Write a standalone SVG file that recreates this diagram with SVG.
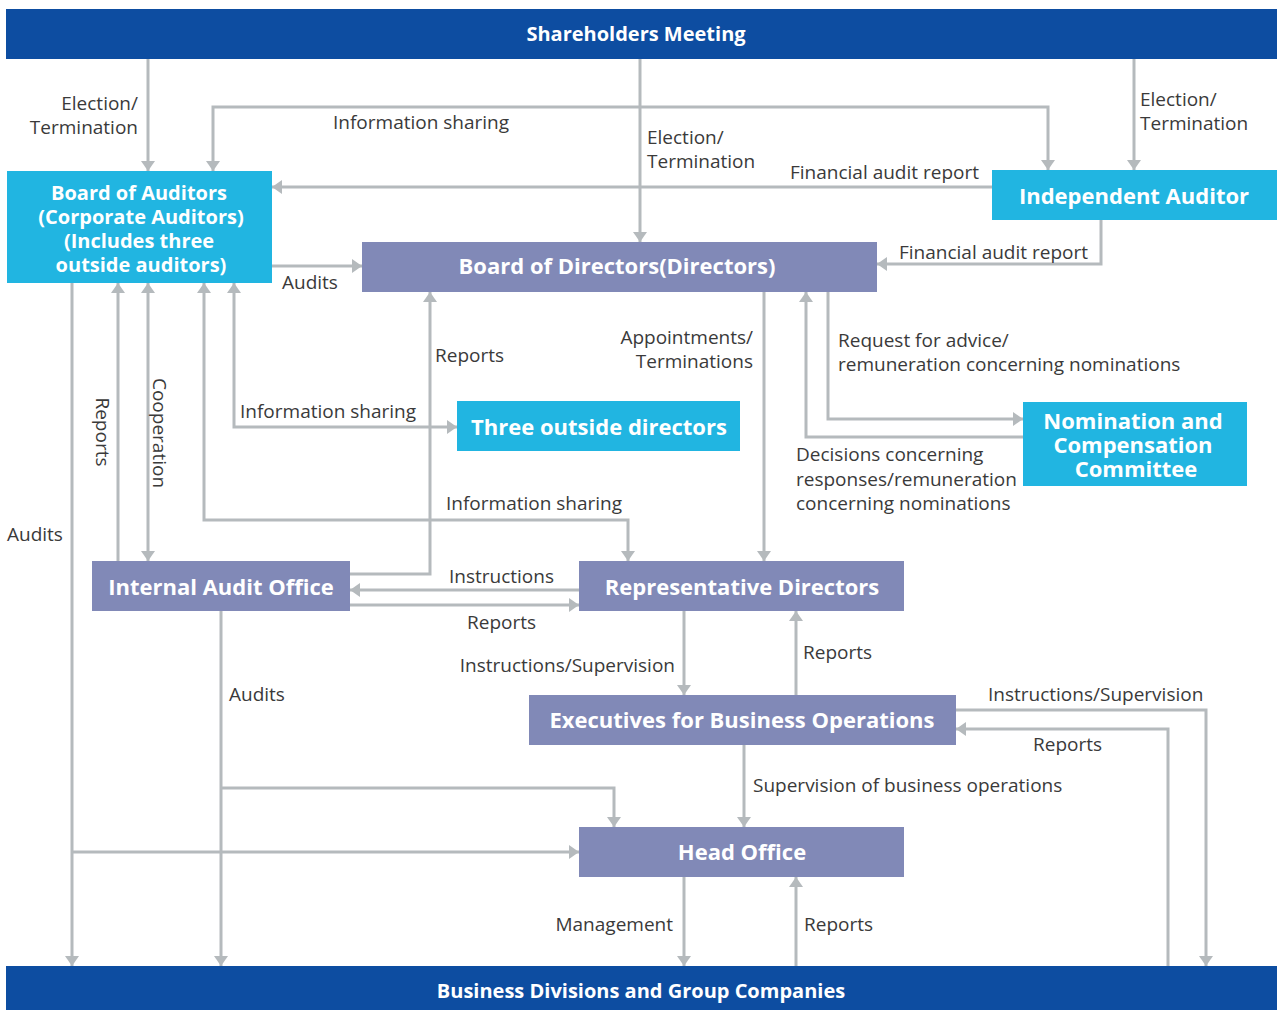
<svg xmlns="http://www.w3.org/2000/svg" width="1277" height="1010" viewBox="0 0 1277 1010">
<style>
.c{fill:none;stroke:#b5babd;stroke-width:3}
.a{marker-end:url(#ah)}
.b{marker-start:url(#ah);marker-end:url(#ah)}
.lb{font-family:"Open Sans","Noto Sans",sans-serif;font-size:19px;fill:#3a3a3a}
.e{text-anchor:end}
.t{font-family:"Open Sans","Noto Sans",sans-serif;font-weight:bold;fill:#fff;text-anchor:middle;dominant-baseline:central}
.bar{fill:#0d4da1}
.cy{fill:#21b5e1}
.pu{fill:#8189b7}
</style>
<defs>
<marker id="ah" viewBox="0 0 10 14" refX="10" refY="7" markerWidth="10" markerHeight="14" markerUnits="userSpaceOnUse" orient="auto-start-reverse">
<path d="M0,0 L10,7 L0,14 z" fill="#b5babd"/>
</marker>
</defs>
<rect width="1277" height="1010" fill="#fff"/>
<g id="connectors">
<path class="c a" d="M148,59 V171"/>
<path class="c a" d="M640,59 V242"/>
<path class="c a" d="M1134,59 V170"/>
<path class="c b" d="M213,171 V107 H1048 V170"/>
<path class="c a" d="M992,187 H272"/>
<path class="c a" d="M1101,220 V264 H877"/>
<path class="c a" d="M272,266 H362"/>
<path class="c a" d="M72,283 V966"/>
<path class="c a" d="M72,852 H579"/>
<path class="c a" d="M118,561 V283"/>
<path class="c b" d="M148,283 V561"/>
<path class="c b" d="M234,283 V427 H457"/>
<path class="c b" d="M204,283 V520 H628 V561"/>
<path class="c a" d="M350,574 H430 V292"/>
<path class="c a" d="M764,292 V561"/>
<path class="c a" d="M828,292 V419 H1023"/>
<path class="c a" d="M1023,437 H806 V292"/>
<path class="c a" d="M579,590 H350"/>
<path class="c a" d="M350,605 H579"/>
<path class="c a" d="M684,611 V695"/>
<path class="c a" d="M796,695 V611"/>
<path class="c a" d="M221,611 V966"/>
<path class="c a" d="M221,788 H614 V827"/>
<path class="c a" d="M744,745 V827"/>
<path class="c a" d="M956,710 H1206 V966"/>
<path class="c a" d="M1168,966 V729 H956"/>
<path class="c a" d="M684,877 V966"/>
<path class="c a" d="M796,966 V877"/>
</g>
<g id="labels">
<text class="lb e" x="138" y="110">Election/</text>
<text class="lb e" x="138" y="134">Termination</text>
<text class="lb" x="333" y="129">Information sharing</text>
<text class="lb" x="647" y="144">Election/</text>
<text class="lb" x="647" y="168">Termination</text>
<text class="lb" x="1140" y="106">Election/</text>
<text class="lb" x="1140" y="130">Termination</text>
<text class="lb" x="790" y="179">Financial audit report</text>
<text class="lb" x="899" y="259">Financial audit report</text>
<text class="lb" x="282" y="289">Audits</text>
<text class="lb" x="435" y="362">Reports</text>
<text class="lb e" x="753" y="344">Appointments/</text>
<text class="lb e" x="753" y="368">Terminations</text>
<text class="lb" x="838" y="347">Request for advice/</text>
<text class="lb" x="838" y="371">remuneration concerning nominations</text>
<text class="lb" x="240" y="418">Information sharing</text>
<text class="lb" x="796" y="461">Decisions concerning</text>
<text class="lb" x="796" y="486">responses/remuneration</text>
<text class="lb" x="796" y="510">concerning nominations</text>
<text class="lb" x="7" y="541">Audits</text>
<text class="lb" x="446" y="510">Information sharing</text>
<text class="lb" x="449" y="583">Instructions</text>
<text class="lb" x="467" y="629">Reports</text>
<text class="lb" x="803" y="659">Reports</text>
<text class="lb e" x="675" y="672">Instructions/Supervision</text>
<text class="lb" x="229" y="701">Audits</text>
<text class="lb" x="988" y="701">Instructions/Supervision</text>
<text class="lb" x="1033" y="751">Reports</text>
<text class="lb" x="753" y="792">Supervision of business operations</text>
<text class="lb e" x="673" y="931">Management</text>
<text class="lb" x="804" y="931">Reports</text>
<text class="lb" x="103" y="432" text-anchor="middle" dominant-baseline="central" transform="rotate(90 103 432)">Reports</text>
<text class="lb" x="160" y="433" text-anchor="middle" dominant-baseline="central" transform="rotate(90 160 433)">Cooperation</text>
</g>
<g id="shareholders">
<rect class="bar" x="6" y="9" width="1271" height="50"/>
<text class="t" x="636" y="33" font-size="20">Shareholders Meeting</text>
</g>
<g id="business-divisions">
<rect class="bar" x="6" y="966" width="1271" height="44"/>
<text class="t" x="641" y="990" font-size="20">Business Divisions and Group Companies</text>
</g>
<g id="board-of-auditors">
<rect class="cy" x="7" y="171" width="265" height="112"/>
<text class="t" font-size="20"><tspan x="139" y="192">Board of Auditors</tspan><tspan x="141" y="216">(Corporate Auditors)</tspan><tspan x="139" y="240">(Includes three</tspan><tspan x="141" y="264">outside auditors)</tspan></text>
</g>
<g id="independent-auditor">
<rect class="cy" x="992" y="170" width="285" height="50"/>
<text class="t" x="1134" y="195" font-size="22">Independent Auditor</text>
</g>
<g id="board-of-directors">
<rect class="pu" x="362" y="242" width="515" height="50"/>
<text class="t" x="617" y="265" font-size="22">Board of Directors(Directors)</text>
</g>
<g id="three-outside-directors">
<rect class="cy" x="457" y="401" width="283" height="50"/>
<text class="t" x="599" y="426" font-size="22">Three outside directors</text>
</g>
<g id="nomination-committee">
<rect class="cy" x="1023" y="402" width="224" height="84"/>
<text class="t" font-size="22"><tspan x="1133" y="420">Nomination and</tspan><tspan x="1133" y="444">Compensation</tspan><tspan x="1136" y="468">Committee</tspan></text>
</g>
<g id="internal-audit-office">
<rect class="pu" x="92" y="561" width="258" height="50"/>
<text class="t" x="221" y="586" font-size="22">Internal Audit Office</text>
</g>
<g id="representative-directors">
<rect class="pu" x="579" y="561" width="325" height="50"/>
<text class="t" x="742" y="586" font-size="22">Representative Directors</text>
</g>
<g id="executives">
<rect class="pu" x="529" y="695" width="427" height="50"/>
<text class="t" x="742" y="719" font-size="22">Executives for Business Operations</text>
</g>
<g id="head-office">
<rect class="pu" x="579" y="827" width="325" height="50"/>
<text class="t" x="742" y="851" font-size="22">Head Office</text>
</g>
</svg>
